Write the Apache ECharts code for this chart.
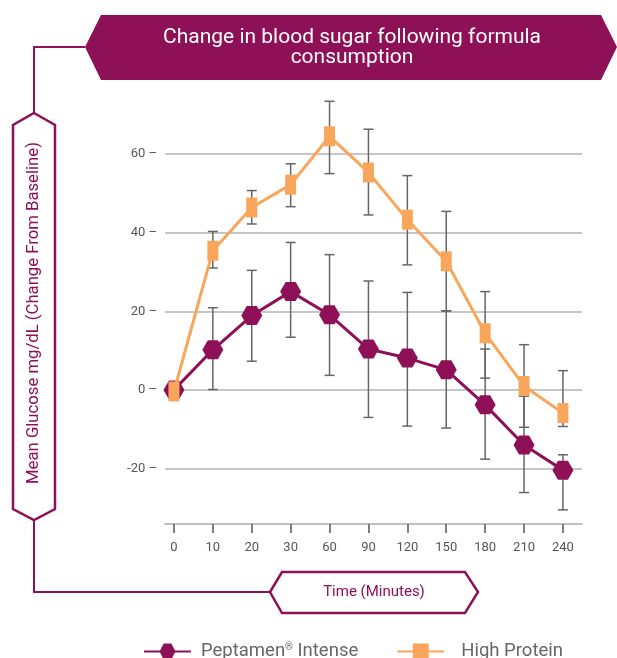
<!DOCTYPE html>
<html>
<head>
<meta charset="utf-8">
<script src="https://cdn.jsdelivr.net/npm/echarts@6/dist/echarts.min.js"></script>
<style>
  html, body { margin: 0; padding: 0; background: #fff; }
  #chart { width: 617px; height: 658px; }
</style>
</head>
<body>
<div id="chart"></div>
<script>
// x categories (minutes) and y tick labels
const timeLabels = ['0', '10', '20', '30', '60', '90', '120', '150', '180', '210', '240'];
const yTicks = [-20, 0, 20, 40, 60];

// Peptamen Intense: mean + error bar ends
const peptamen = [0, 10.2, 18.9, 25.0, 19.1, 10.4, 8.1, 5.1, -3.8, -14.0, -20.4];
const peptamenLow = [0, 0.1, 7.3, 13.4, 3.7, -7.0, -9.2, -9.7, -17.6, -26.1, -30.5];
const peptamenHigh = [0, 20.9, 30.4, 37.5, 34.4, 27.7, 24.8, 20.1, 10.4, -1.6, -16.5];

// High Protein: mean + error bar ends
const highProtein = [-0.4, 35.4, 46.4, 52.2, 64.5, 55.3, 43.3, 32.7, 14.4, 1.0, -5.9];
const highProteinLow = [-0.4, 31.0, 42.2, 46.6, 55.0, 44.5, 31.8, 20.1, 3.0, -9.5, -9.3];
const highProteinHigh = [-0.4, 40.3, 50.7, 57.5, 73.4, 66.3, 54.5, 45.4, 25.0, 11.5, 4.9];

const purple = '#8E1157';
const orange = '#F9A65B';
const font = 'Roboto, "Noto Sans", sans-serif';
const hexagon = 'path://M0,9.5 L5.5,0 L15.5,0 L21,9.5 L15.5,19 L5.5,19 Z';
const idx = timeLabels.map((_, i) => i);

const errorBar = (params, api) => {
  const x = api.value(0);
  const lo = api.coord([x, api.value(1)]);
  const hi = api.coord([x, api.value(2)]);
  if (Math.abs(lo[1] - hi[1]) < 1) return;
  const w = 5;
  const style = { stroke: '#666', lineWidth: 1.5 };
  return {
    type: 'group',
    children: [
      { type: 'line', shape: { x1: lo[0], y1: lo[1], x2: hi[0], y2: hi[1] }, style },
      { type: 'line', shape: { x1: lo[0] - w, y1: lo[1], x2: lo[0] + w, y2: lo[1] }, style },
      { type: 'line', shape: { x1: hi[0] - w, y1: hi[1], x2: hi[0] + w, y2: hi[1] }, style }
    ]
  };
};

const myChart = echarts.init(document.getElementById('chart'));

const option = {
  animation: false,
  textStyle: { fontFamily: font },
  grid: { left: 165, right: 35, top: 95, bottom: 134 },
  xAxis: {
    type: 'value',
    min: -0.23,
    max: 10.49,
    axisLine: { show: true, onZero: false, lineStyle: { color: '#aaa', width: 1.5 } },
    axisTick: { show: true, customValues: idx, length: 9, lineStyle: { color: '#555', width: 1.5 } },
    axisLabel: {
      customValues: idx,
      formatter: v => timeLabels[v],
      color: '#555', fontSize: 13, margin: 17, fontFamily: font
    },
    splitLine: { show: false }
  },
  yAxis: {
    type: 'value',
    min: -34.1,
    max: 75,
    axisLine: { show: false },
    axisTick: { show: false, customValues: yTicks },
    axisLabel: {
      customValues: yTicks,
      formatter: v => v + ' \u2013',
      color: '#555', fontSize: 13, margin: 8, fontFamily: font
    },
    splitLine: { show: true, lineStyle: { color: '#b3b3b3', width: 1.5 } }
  },
  legend: {
    left: 138,
    top: 637,
    itemWidth: 47,
    itemHeight: 20,
    itemGap: 38,
    textStyle: {
      color: '#666', fontSize: 18.5, fontFamily: font, padding: [0, 0, 0, 5],
      rich: {
        a: { color: '#666', fontSize: 18.5, fontFamily: font },
        sup: { color: '#666', fontSize: 10, fontFamily: font, padding: [0, 0, 9, 0] }
      }
    },
    formatter: name => name === 'Peptamen\u00ae Intense' ? '{a|Peptamen}{sup|\u00ae}{a| Intense}' : name,
    data: [
      { name: 'Peptamen\u00ae Intense' },
      { name: 'High Protein', textStyle: { padding: [0, 0, 0, 12] } }
    ]
  },
  graphic: [
    { type: 'polyline', shape: { points: [[85, 47], [34, 47], [34, 113]] }, style: { stroke: purple, lineWidth: 2, fill: null } },
    { type: 'polygon', shape: { points: [[85, 47], [101, 15], [601, 15], [617, 47], [601, 80], [101, 80]] }, style: { fill: purple } },
    { type: 'text', x: 352, y: 48, style: { text: 'Change in blood sugar following formula\nconsumption', fill: '#fff', fontSize: 21, lineHeight: 20, align: 'center', verticalAlign: 'middle', fontFamily: font } },
    { type: 'polyline', shape: { points: [[34, 520], [34, 592], [270, 592]] }, style: { stroke: purple, lineWidth: 2, fill: null } },
    { type: 'polygon', shape: { points: [[34, 113], [55, 125], [55, 509], [34, 520], [13, 509], [13, 125]] }, style: { stroke: purple, lineWidth: 2.5, fill: '#fff' } },
    { type: 'text', x: 34, y: 313, rotation: Math.PI / 2, style: { text: 'Mean Glucose mg/dL (Change From Baseline)', fill: purple, fontSize: 16.7, align: 'center', verticalAlign: 'middle', fontFamily: font } },
    { type: 'polygon', shape: { points: [[270, 592], [282, 572], [465, 572], [478, 592], [465, 613], [282, 613]] }, style: { stroke: purple, lineWidth: 2.5, fill: '#fff' } },
    { type: 'text', x: 374, y: 592, style: { text: 'Time (Minutes)', fill: purple, fontSize: 15, align: 'center', verticalAlign: 'middle', fontFamily: font } }
  ],
  series: [
    {
      type: 'custom',
      renderItem: errorBar,
      encode: { x: 0, y: [1, 2] },
      data: idx.map(i => [i, peptamenLow[i], peptamenHigh[i]]),
      z: 1
    },
    {
      type: 'custom',
      renderItem: errorBar,
      encode: { x: 0, y: [1, 2] },
      data: idx.map(i => [i, highProteinLow[i], highProteinHigh[i]]),
      z: 1
    },
    {
      name: 'Peptamen\u00ae Intense',
      type: 'line',
      data: idx.map(i => [i, peptamen[i]]),
      symbol: hexagon,
      symbolSize: [21, 19],
      lineStyle: { color: purple, width: 3 },
      itemStyle: { color: purple },
      z: 3
    },
    {
      name: 'High Protein',
      type: 'line',
      data: idx.map(i => [i, highProtein[i]]),
      symbol: 'rect',
      symbolSize: [11, 20],
      lineStyle: { color: orange, width: 3 },
      itemStyle: { color: orange },
      z: 4
    }
  ]
};
option && myChart.setOption(option);
</script>
</body>
</html>
